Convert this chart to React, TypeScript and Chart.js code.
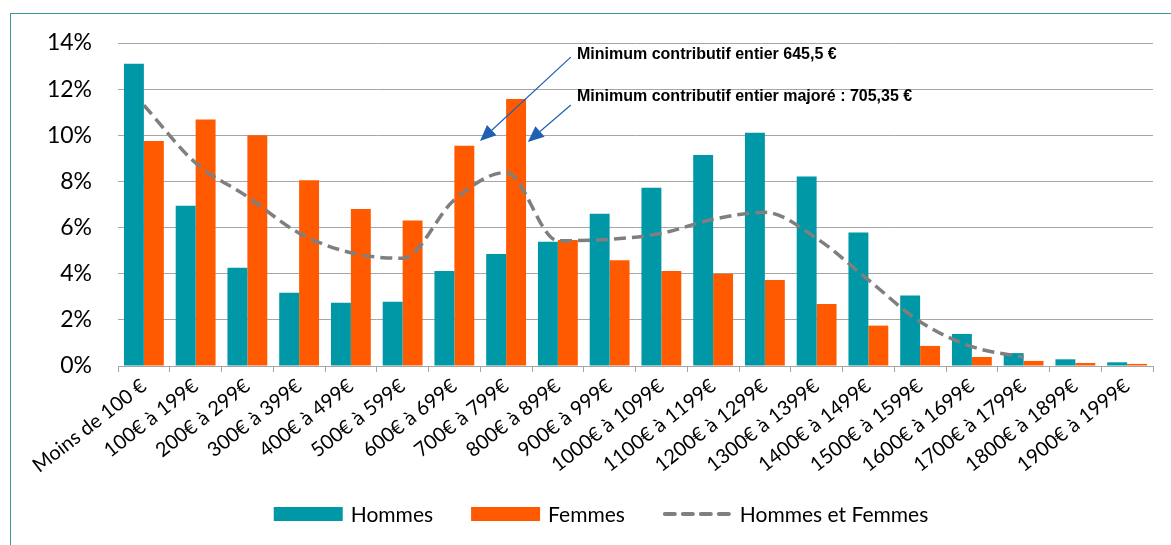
import { useEffect, useRef } from 'react';
import { Chart, registerables } from 'chart.js';

Chart.register(...registerables);

const categories = [
  'Moins de 100 €',
  '100€ à 199€',
  '200€ à 299€',
  '300€ à 399€',
  '400€ à 499€',
  '500€ à 599€',
  '600€ à 699€',
  '700€ à 799€',
  '800€ à 899€',
  '900€ à 999€',
  '1000€ à 1099€',
  '1100€ à 1199€',
  '1200€ à 1299€',
  '1300€ à 1399€',
  '1400€ à 1499€',
  '1500€ à 1599€',
  '1600€ à 1699€',
  '1700€ à 1799€',
  '1800€ à 1899€',
  '1900€ à 1999€',
];

const hommes = [13.1, 6.95, 4.26, 3.18, 2.74, 2.79, 4.12, 4.85, 5.39, 6.6, 7.73, 9.15, 10.11, 8.21, 5.79, 3.06, 1.39, 0.56, 0.29, 0.16];
const femmes = [9.75, 10.68, 10.0, 8.05, 6.8, 6.31, 9.55, 11.57, 5.46, 4.58, 4.12, 4.0, 3.73, 2.69, 1.75, 0.87, 0.39, 0.22, 0.13, 0.09];
const ensemble = [11.3, 8.8, 7.34, 5.76, 4.91, 4.67, 7.2, 8.39, 5.43, 5.49, 5.75, 6.36, 6.66, 5.53, 3.73, 1.92, 0.84, 0.38, null, null];

const yMin = 0;
const yMax = 14;
const yStep = 2;

const seriesNames = ['Hommes', 'Femmes', 'Hommes et Femmes'];

// annotation anchors in chart units: [category index, percent]
const annotationTexts = [
  'Minimum contributif entier 645,5 €',
  'Minimum contributif entier majoré : 705,35 €',
];
const annotationTextAt = [
  [8.37, 13.48],
  [8.37, 11.66],
];
const annotationTail = [
  [8.25, 13.39],
  [8.25, 11.31],
];
const annotationTip = [
  [6.495, 9.75],
  [7.42, 9.71],
];

const TEAL = '#0098a7';
const ORANGE = '#ff5a00';
const GREY_LINE = '#7f7f7f';
const GRID = '#a6a6a6';
const ARROW = '#1f5fb4';
const FONT = 'Lato, "Open Sans", sans-serif';

const annotationPlugin = {
  id: 'minAnnotations',
  afterDatasetsDraw(chart: any) {
    const { ctx } = chart;
    const xs = chart.scales.x;
    const ys = chart.scales.y;
    ctx.save();
    annotationTexts.forEach((t, i) => {
      const tx = xs.getPixelForValue(annotationTail[i][0]);
      const ty = ys.getPixelForValue(annotationTail[i][1]);
      const px = xs.getPixelForValue(annotationTip[i][0]);
      const py = ys.getPixelForValue(annotationTip[i][1]);
      const ang = Math.atan2(py - ty, px - tx);
      const headLen = 16;
      const headHalf = 7;
      const bx = px - headLen * Math.cos(ang);
      const by = py - headLen * Math.sin(ang);
      ctx.strokeStyle = ARROW;
      ctx.lineWidth = 1.2;
      ctx.beginPath();
      ctx.moveTo(tx, ty);
      ctx.lineTo(bx, by);
      ctx.stroke();
      ctx.fillStyle = ARROW;
      ctx.beginPath();
      ctx.moveTo(px, py);
      ctx.lineTo(bx + headHalf * Math.sin(ang), by - headHalf * Math.cos(ang));
      ctx.lineTo(bx - headHalf * Math.sin(ang), by + headHalf * Math.cos(ang));
      ctx.closePath();
      ctx.fill();

      ctx.fillStyle = '#000';
      ctx.font = 'bold 16px "Liberation Sans", Arial, sans-serif';
      ctx.textAlign = 'left';
      ctx.textBaseline = 'middle';
      ctx.fillText(t, xs.getPixelForValue(annotationTextAt[i][0]), ys.getPixelForValue(annotationTextAt[i][1]));
    });
    ctx.restore();
  },
};

const legendPlugin = {
  id: 'bottomLegend',
  afterDraw(chart: any) {
    const { ctx } = chart;
    const ds = seriesNames.map((n) => chart.data.datasets.find((d: any) => d.label === n));
    ctx.save();
    ctx.font = `21px ${FONT}`;
    const boxW = 69;
    const boxH = 14;
    const gapText = 8;
    const gapItem = 38;
    const widths = ds.map((d: any) => boxW + gapText + ctx.measureText(d.label).width);
    const total = widths.reduce((a: number, b: number) => a + b, 0) + gapItem * (ds.length - 1);
    let x = 601 - total / 2;
    const y = 514;
    ds.forEach((d: any, i: number) => {
      if (d.type === 'line') {
        ctx.strokeStyle = d.borderColor;
        ctx.lineWidth = 4;
        ctx.lineCap = 'round';
        ctx.setLineDash([10, 8]);
        ctx.beginPath();
        ctx.moveTo(x + 2, y);
        ctx.lineTo(x + boxW, y);
        ctx.stroke();
        ctx.setLineDash([]);
      } else {
        ctx.fillStyle = d.backgroundColor;
        ctx.fillRect(x, y - boxH / 2, boxW, boxH);
      }
      ctx.fillStyle = '#000';
      ctx.textAlign = 'left';
      ctx.textBaseline = 'middle';
      ctx.fillText(d.label, x + boxW + gapText, y + 1);
      x += widths[i] + gapItem;
    });
    ctx.restore();
  },
};

export default function App() {
  const canvasRef = useRef<HTMLCanvasElement | null>(null);

  useEffect(() => {
    if (!canvasRef.current) return;
    const chart = new Chart(canvasRef.current, {
      type: 'bar',
      data: {
        labels: categories,
        datasets: [
          {
            type: 'line',
            label: seriesNames[2],
            data: ensemble,
            borderColor: GREY_LINE,
            backgroundColor: GREY_LINE,
            borderWidth: 3.5,
            borderDash: [12, 6],
            pointRadius: 0,
            cubicInterpolationMode: 'monotone',
            fill: false,
            spanGaps: false,
            order: 0,
          } as any,
          {
            type: 'bar',
            label: seriesNames[0],
            data: hommes,
            backgroundColor: TEAL,
            categoryPercentage: 0.77,
            barPercentage: 1,
            order: 1,
          },
          {
            type: 'bar',
            label: seriesNames[1],
            data: femmes,
            backgroundColor: ORANGE,
            categoryPercentage: 0.77,
            barPercentage: 1,
            order: 2,
          },
        ],
      },
      options: {
        responsive: false,
        animation: false,
        devicePixelRatio: 1,
        layout: { padding: { top: 43, left: 0, right: 18, bottom: 0 } },
        plugins: {
          legend: { display: false },
          tooltip: { enabled: false },
        },
        scales: {
          x: {
            type: 'category',
            grid: {
              display: true,
              offset: true,
              drawOnChartArea: false,
              drawTicks: true,
              tickLength: 6,
              color: GRID,
            },
            border: { display: true, color: GRID, width: 1 },
            ticks: {
              autoSkip: false,
              minRotation: 38,
              maxRotation: 38,
              padding: 2,
              color: '#000',
              font: { family: FONT, size: 20 },
            },
            afterFit: (s: any) => {
              s.height = 179;
            },
          },
          y: {
            min: yMin,
            max: yMax,
            grid: { color: GRID, lineWidth: 1, drawTicks: false },
            border: { display: false },
            ticks: {
              stepSize: yStep,
              padding: 26,
              color: '#000',
              font: { family: FONT, size: 23 },
              callback: (v: any) => `${v}%`,
            },
            afterFit: (s: any) => {
              s.width = 118;
            },
          },
        },
      },
      plugins: [annotationPlugin, legendPlugin],
    });
    return () => chart.destroy();
  }, []);

  return (
    <div
      style={{
        position: 'fixed',
        left: 0,
        top: 0,
        width: 1171,
        height: 545,
        overflow: 'hidden',
        background: '#fff',
      }}
    >
      <div
        style={{
          position: 'absolute',
          left: 10,
          top: 13,
          width: 1300,
          height: 700,
          border: '1px solid #3f969c',
          boxSizing: 'border-box',
        }}
      />
      <canvas
        ref={canvasRef}
        width={1171}
        height={545}
        style={{ position: 'absolute', left: 0, top: 0, width: 1171, height: 545 }}
      />
    </div>
  );
}
